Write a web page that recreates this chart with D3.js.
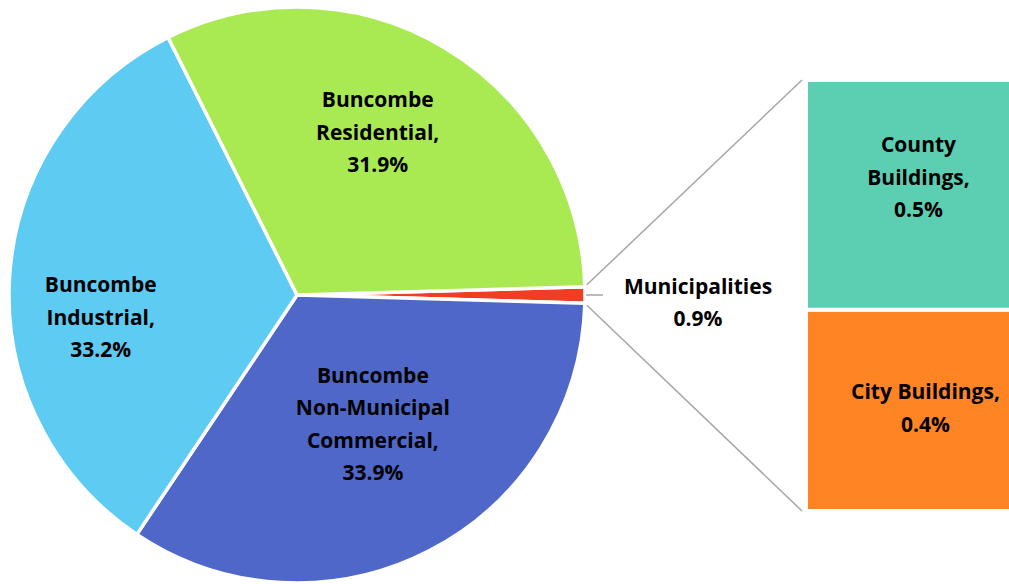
<!DOCTYPE html>
<html>
<head>
<meta charset="utf-8">
<script src="https://cdn.jsdelivr.net/npm/d3@7"></script>
<style>
  body { margin: 0; background: #fff; }
  text { font-family: "Open Sans", Lato, sans-serif; font-weight: bold; fill: #000; }
</style>
</head>
<body>
<div id="chart"></div>
<script>
// pie slices (Municipalities is split out into the bar)
const pieNames = ["Municipalities", "Buncombe Non-Municipal Commercial", "Buncombe Industrial", "Buncombe Residential"]
const pieValues = [0.9, 33.9, 33.2, 31.9]
const pieColors = ["#ef3e23", "#4f67c9", "#5dcbf2", "#a9ea52"]

// second plot (stacked bar)
const barNames = ["County Buildings", "City Buildings"]
const barValues = [0.48, 0.42]
const barColors = ["#5ccfb2", "#ff8424"]

const width = 1009
const height = 584
const cx = 297, cy = 295, R = 288
const lineH = 32.5

const svg = d3.select("#chart").append("svg")
  .attr("width", width)
  .attr("height", height)

// Municipalities slice centred on 3 o'clock
const halfOther = pieValues[0] / d3.sum(pieValues) * Math.PI
const pie = d3.pie().sort(null)
  .startAngle(Math.PI / 2 - halfOther)
  .endAngle(Math.PI / 2 - halfOther + 2 * Math.PI)

const arcs = pie(pieValues)
const arc = d3.arc().innerRadius(0).outerRadius(R)
const labelArc = d3.arc().innerRadius(R * 0.62).outerRadius(R * 0.62)

const g = svg.append("g").attr("transform", "translate(" + cx + "," + cy + ")")

g.selectAll("path")
  .data(arcs)
  .join("path")
    .attr("d", arc)
    .attr("fill", (d, i) => pieColors[i])
    .attr("stroke", "#fff")
    .attr("stroke-width", 3.5)
    .attr("stroke-linejoin", "round")

// bar of the split slice
const y = d3.scaleLinear().domain([0, d3.sum(barValues)]).range([80, 511])
const barX = 806, barW = 205
let acc = 0
const stack = barValues.map(v => { const s = { y0: acc, y1: acc + v }; acc += v; return s })

svg.selectAll("rect.bar")
  .data(stack)
  .join("rect")
    .attr("class", "bar")
    .attr("x", barX)
    .attr("y", d => y(d.y0))
    .attr("width", barW)
    .attr("height", d => y(d.y1) - y(d.y0))
    .attr("fill", (d, i) => barColors[i])
    .attr("stroke", "#fff")
    .attr("stroke-width", 4)

// connector lines
const a0 = arcs[0]
const p1 = [cx + (R + 2) * Math.sin(a0.startAngle), cy - (R + 2) * Math.cos(a0.startAngle)]
const p2 = [cx + (R + 2) * Math.sin(a0.endAngle), cy - (R + 2) * Math.cos(a0.endAngle)]
svg.append("line")
  .attr("x1", p1[0]).attr("y1", p1[1] - 2)
  .attr("x2", barX - 4).attr("y2", y(0))
  .attr("stroke", "#a6a6a6").attr("stroke-width", 1.5)
svg.append("line")
  .attr("x1", p2[0]).attr("y1", p2[1] + 2)
  .attr("x2", barX - 4).attr("y2", y(d3.sum(barValues)))
  .attr("stroke", "#a6a6a6").attr("stroke-width", 1.5)
// leader for municipalities label
svg.append("line")
  .attr("x1", cx + R + 1).attr("y1", cy)
  .attr("x2", cx + R + 18).attr("y2", cy)
  .attr("stroke", "#a6a6a6").attr("stroke-width", 1.5)

function fmt(v) { return v.toFixed(1) + "%" }

// x = centre, ym = midpoint between first and last baseline
function addLabel(lines, x, ym) {
  const t = svg.append("text")
    .attr("text-anchor", "middle")
    .attr("font-size", 21)
  const y0 = ym - (lines.length - 1) * lineH / 2
  lines.forEach((s, i) => {
    t.append("tspan").attr("x", x).attr("y", y0 + i * lineH).text(s)
  })
}

// pie labels
const pieLines = [
  null,
  ["Buncombe", "Non-Municipal", "Commercial,", fmt(pieValues[1])],
  ["Buncombe", "Industrial,", fmt(pieValues[2])],
  ["Buncombe", "Residential,", fmt(pieValues[3])]
]
const nudge = [null, [-6, -22], [-18, 41], [-11, -2]]
arcs.forEach((d, i) => {
  if (!pieLines[i]) return
  const c = labelArc.centroid(d)
  addLabel(pieLines[i], cx + c[0] + nudge[i][0], cy + c[1] + nudge[i][1])
})

addLabel([pieNames[0], fmt(pieValues[0])], cx + R + 113, cy + 15)

// bar labels
const bx = barX + barW / 2
addLabel(["County", "Buildings,", fmt(barValues[0])], bx + 10, (y(0) + y(barValues[0])) / 2 - 10)
addLabel(["City Buildings,", fmt(barValues[1])], bx + 17, (y(barValues[0]) + y(d3.sum(barValues))) / 2 + 5)
</script>
</body>
</html>
